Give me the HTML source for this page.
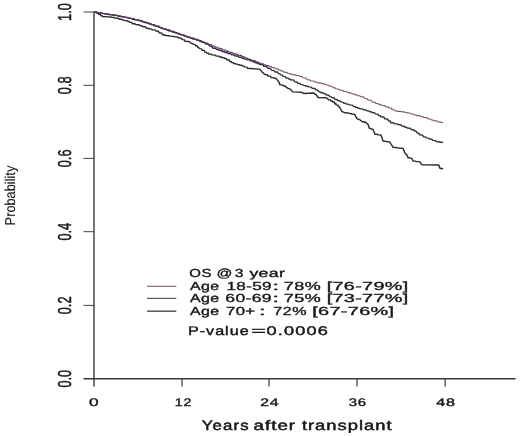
<!DOCTYPE html>
<html>
<head>
<meta charset="utf-8">
<title>Survival chart</title>
<style>
  html, body { margin: 0; padding: 0; background: #ffffff; }
  body { width: 520px; height: 436px; overflow: hidden; font-family: "Liberation Sans", sans-serif; }
  svg { display: block; filter: blur(0.4px); }
  text { font-family: "Liberation Sans", sans-serif; fill: #161616; stroke: #161616; stroke-width: 0.35px; text-rendering: geometricPrecision; }
  text.b { stroke: #111; stroke-width: 0.4px; }
  text.t { stroke: #111; stroke-width: 0.45px; }
</style>
</head>
<body>
<svg width="520" height="436" viewBox="0 0 520 436">
  <rect x="0" y="0" width="520" height="436" fill="#ffffff"/>

  <!-- axes -->
  <g stroke="#383838" stroke-width="1.4" fill="none">
    <line x1="94" y1="11.4" x2="94" y2="386.4"/>
    <line x1="83.4" y1="378.7" x2="515.6" y2="378.7"/>
  </g>
  <g stroke="#444444" stroke-width="1.3" fill="none">
    <line x1="83.4" y1="12" x2="94" y2="12" stroke-width="1"/>
    <line x1="83.4" y1="85.3" x2="94" y2="85.3" stroke-width="1"/>
    <line x1="83.4" y1="158.4" x2="94" y2="158.4" stroke-width="1"/>
    <line x1="83.4" y1="231.7" x2="94" y2="231.7" stroke-width="1"/>
    <line x1="83.4" y1="305.4" x2="94" y2="305.4" stroke-width="1"/>
    <line x1="182" y1="378.7" x2="182" y2="386.4"/>
    <line x1="269" y1="378.7" x2="269" y2="386.4"/>
    <line x1="357" y1="378.7" x2="357" y2="386.4"/>
    <line x1="445.2" y1="378.7" x2="445.2" y2="386.4"/>
  </g>

  <!-- y tick labels (rotated) -->
  <g font-size="12.8px" text-anchor="middle">
    <text transform="translate(70.8,12) rotate(-90) scale(1,1.46)">1.0</text>
    <text transform="translate(70.8,85.3) rotate(-90) scale(1,1.46)">0.8</text>
    <text transform="translate(70.8,158.4) rotate(-90) scale(1,1.46)">0.6</text>
    <text transform="translate(70.8,231.7) rotate(-90) scale(1,1.46)">0.4</text>
    <text transform="translate(70.8,305.4) rotate(-90) scale(1,1.46)">0.2</text>
    <text transform="translate(70.8,378.7) rotate(-90) scale(1,1.46)">0.0</text>
  </g>

  <!-- y axis title -->
  <text transform="translate(14.7,224.3) rotate(-90) scale(1,1.12)" x="-1.1" y="0" font-size="12.8px" textLength="59.7" lengthAdjust="spacingAndGlyphs" style="stroke-width:0.1px">Probability</text>

  <!-- curves -->
  <defs>
    <linearGradient id="gu" gradientUnits="userSpaceOnUse" x1="94" y1="0" x2="444" y2="0">
      <stop offset="0" stop-color="#56365e"/><stop offset="0.44" stop-color="#56365e"/>
      <stop offset="0.54" stop-color="#786264"/><stop offset="1" stop-color="#786264"/>
    </linearGradient>
    <linearGradient id="gm" gradientUnits="userSpaceOnUse" x1="94" y1="0" x2="444" y2="0">
      <stop offset="0" stop-color="#2e2236"/><stop offset="0.44" stop-color="#2e2236"/>
      <stop offset="0.54" stop-color="#343538"/><stop offset="1" stop-color="#343538"/>
    </linearGradient>
  </defs>
  <g fill="none" stroke-linejoin="miter" stroke-linecap="butt">
    <polyline stroke="#2c2b2e" stroke-width="1.45" points="94.5,12.0 96.1,12.1 96.7,13.2 98.2,13.4 98.8,14.4 100.3,14.5 100.8,15.6 102.1,15.7 102.5,16.5 108.8,16.9 110.8,17.0 111.5,17.4 114.1,17.5 115.0,18.1 118.3,18.2 119.4,19.2 121.8,19.3 122.6,20.0 124.0,20.1 124.5,20.5 126.8,20.6 127.5,21.2 129.0,21.4 129.5,22.2 131.7,22.4 132.5,23.8 134.9,23.8 135.6,24.5 138.9,24.7 140.0,25.6 141.8,25.7 142.3,26.5 145.3,26.7 146.2,28.1 147.6,28.2 148.1,28.5 149.5,28.6 150.0,29.0 151.7,29.1 152.2,29.7 155.1,29.9 156.0,31.0 158.4,31.2 159.2,32.8 161.7,33.1 162.5,34.8 164.0,34.8 164.5,35.2 165.8,35.3 166.2,35.6 168.5,35.7 169.2,36.0 171.3,36.1 171.9,36.4 174.2,36.5 175.0,36.9 177.5,37.0 178.3,37.9 180.5,38.0 181.2,38.8 182.3,38.9 182.6,39.7 184.4,39.9 185.0,41.2 188.8,41.5 191.2,43.1 193.8,44.4 195.2,44.6 195.7,45.7 197.0,45.8 197.5,46.9 200.0,48.6 201.6,48.8 202.2,50.2 204.3,50.4 205.0,52.2 206.3,52.4 206.8,53.1 208.3,53.2 208.8,54.1 211.2,54.2 212.0,54.9 215.2,55.1 216.2,56.0 218.8,56.1 219.6,57.0 221.4,57.0 222.0,57.6 224.2,57.7 225.0,58.5 226.5,58.7 227.0,59.8 229.3,60.0 230.0,61.6 231.4,61.7 231.9,62.6 233.3,62.7 233.8,63.5 235.4,63.6 235.9,64.1 237.1,64.1 237.5,64.5 239.2,64.6 239.7,65.2 241.8,65.3 242.5,66.0 244.1,66.1 244.6,66.9 246.8,67.1 247.5,68.2 253.8,68.8 258.8,69.1 260.0,69.4 262.5,72.4 265.0,74.6 267.2,74.8 267.9,76.0 270.4,76.1 271.2,77.5 273.6,77.6 274.4,78.3 275.8,78.3 276.2,78.8 278.8,81.9 280.0,84.8 282.4,84.9 283.2,85.7 284.5,85.8 285.0,86.2 287.5,88.1 290.6,89.4 292.5,91.9 301.2,92.2 303.8,93.5 313.8,93.1 316.2,94.8 318.1,97.5 326.2,97.8 328.8,99.9 330.3,100.0 330.8,100.9 332.1,101.0 332.5,101.8 334.2,102.0 334.8,103.7 335.9,103.8 336.2,104.9 337.9,105.1 338.5,106.8 339.6,106.9 340.0,108.0 341.9,111.5 345.0,112.8 346.7,112.8 347.3,113.1 349.3,113.2 350.0,113.6 351.4,113.7 351.9,114.1 354.2,114.2 355.0,114.9 356.9,118.6 360.0,119.9 362.5,121.8 364.0,121.8 364.5,122.3 365.8,122.3 366.2,122.8 368.1,124.5 369.4,128.3 370.8,128.4 371.3,129.1 372.7,129.2 373.1,129.9 375.0,134.2 377.2,134.3 377.9,134.8 380.4,134.9 381.2,135.5 383.1,141.1 385.3,141.2 386.0,141.6 389.0,141.7 390.0,142.4 393.1,147.4 395.9,147.5 396.8,147.8 398.5,147.9 399.0,148.1 402.1,148.2 403.1,148.6 405.0,153.0 406.9,154.9 408.1,157.8 409.3,157.8 409.8,158.1 411.4,158.2 411.9,158.6 413.1,161.1 415.4,161.1 416.1,161.5 419.0,161.6 420.0,162.0 421.9,164.9 438.7,165.0 440.0,168.3 443.1,168.8"/>
    <polyline stroke="url(#gm)" stroke-width="1.45" points="94.5,12.0 96.5,12.1 97.3,12.6 98.6,12.6 99.2,12.9 101.4,13.0 102.3,13.6 104.3,13.6 105.2,14.0 107.1,14.0 108.0,14.4 109.8,14.4 110.6,14.8 112.2,14.8 112.9,15.1 115.2,15.2 116.2,15.6 117.9,15.7 118.7,16.1 120.4,16.2 121.1,16.6 123.4,16.7 124.4,17.3 126.6,17.4 127.5,17.9 129.0,18.0 129.6,18.4 131.7,18.5 132.6,19.2 134.2,19.3 134.9,19.7 137.4,19.9 138.6,20.6 141.2,20.8 142.4,21.7 144.5,21.9 145.4,22.7 148.1,22.8 149.2,23.9 150.6,24.0 151.2,24.5 153.3,24.7 154.2,25.6 155.6,25.7 156.2,26.3 158.2,26.5 159.0,27.3 160.4,27.5 161.0,28.1 162.5,28.2 163.1,28.8 165.4,29.0 166.4,29.9 168.0,30.0 168.7,30.7 170.2,30.8 170.8,31.4 172.4,31.5 173.1,32.2 175.0,32.3 175.7,33.1 177.8,33.2 178.7,34.1 180.3,34.2 181.0,34.9 183.3,35.1 184.3,36.1 186.4,36.2 187.2,37.1 189.4,37.3 190.3,38.1 192.2,38.2 193.0,39.0 195.6,39.1 196.7,40.1 198.9,40.3 199.9,41.2 201.4,41.3 202.1,42.2 204.5,42.4 205.6,43.8 208.4,44.2 209.7,46.2 211.8,46.5 212.7,48.0 215.4,48.2 216.6,49.4 218.4,49.5 219.2,50.3 221.4,50.5 222.4,51.5 224.4,51.6 225.2,52.5 227.2,52.6 228.1,53.5 230.6,53.6 231.7,54.7 233.9,54.9 234.8,55.8 237.7,56.0 238.9,57.1 241.1,57.3 242.0,58.1 243.4,58.2 244.0,58.8 245.9,58.9 246.7,59.6 249.4,59.8 250.5,60.9 252.5,61.0 253.3,61.9 254.6,62.0 255.2,62.6 256.8,62.7 257.6,63.5 258.9,63.6 259.5,64.2 262.5,64.5 263.7,66.2 266.6,66.5 267.8,68.3 270.4,68.6 271.6,70.1 273.8,70.4 274.8,71.8 277.3,72.0 278.4,73.6 280.0,73.8 280.6,74.9 282.4,75.1 283.1,76.4 285.3,76.6 286.2,78.0 288.1,78.1 288.9,79.0 290.2,79.2 290.8,79.8 293.7,80.1 294.9,81.8 296.9,82.0 297.8,83.2 299.9,83.4 300.8,84.4 302.6,84.6 303.4,85.4 305.1,85.6 305.8,86.1 307.7,86.2 308.5,86.9 311.2,87.1 312.3,88.3 314.8,88.5 315.9,89.8 317.8,90.1 318.6,91.4 319.9,91.6 320.4,92.5 323.0,92.7 324.1,93.9 325.9,94.0 326.6,95.0 328.8,95.3 329.8,96.6 331.1,96.8 331.7,97.6 334.0,97.8 335.0,99.3 337.0,99.5 337.8,100.6 339.9,100.8 340.8,101.9 342.7,102.1 343.6,103.0 345.4,103.2 346.2,104.0 348.4,104.1 349.3,104.9 352.2,105.1 353.5,106.4 354.9,106.5 355.5,107.2 357.3,107.4 358.1,108.2 359.4,108.3 360.0,108.8 362.5,108.9 363.6,109.8 365.9,110.0 366.9,110.8 368.6,110.9 369.2,111.5 371.2,111.7 372.0,112.6 374.4,112.8 375.4,113.9 377.8,114.2 378.8,115.6 380.3,115.8 381.0,116.7 383.7,117.0 384.9,118.7 387.5,119.0 388.6,120.8 390.1,121.0 390.7,122.7 393.4,122.8 394.6,123.8 397.1,123.9 398.2,124.6 400.8,124.8 401.9,126.1 404.1,126.3 405.0,127.2 406.6,127.3 407.3,128.0 410.1,128.3 411.3,129.6 413.6,129.8 414.6,131.0 416.4,131.3 417.2,133.0 418.9,133.3 419.6,134.8 422.4,135.1 423.6,136.7 425.6,136.9 426.4,137.9 428.6,138.1 429.5,139.1 431.8,139.3 432.8,140.4 435.4,140.6 436.6,141.6 438.9,141.7 439.9,142.2 441.4,142.2 442.1,142.3 442.7,142.4 443.0,142.4"/>
    <polyline stroke="url(#gu)" stroke-width="1.2" points="94.5,12.0 96.6,12.1 97.5,12.5 100.1,12.6 101.3,13.2 102.6,13.2 103.2,13.5 105.1,13.6 105.9,13.9 107.5,13.9 108.2,14.2 109.7,14.3 110.3,14.5 112.0,14.6 112.7,14.9 114.7,14.9 115.5,15.3 117.6,15.4 118.5,15.9 120.8,16.0 121.8,16.6 123.8,16.6 124.7,17.1 127.3,17.3 128.4,17.9 130.1,18.0 130.9,18.5 133.8,18.7 135.0,19.5 136.4,19.6 137.0,20.0 139.6,20.1 140.7,20.9 142.8,21.0 143.6,21.8 146.0,22.0 147.0,22.9 148.6,23.0 149.3,23.6 151.0,23.7 151.7,24.4 154.5,24.6 155.7,25.8 158.8,26.1 160.1,27.4 162.0,27.6 162.8,28.4 165.4,28.6 166.5,29.6 169.4,29.8 170.7,31.0 173.6,31.3 174.9,32.5 176.4,32.6 177.0,33.2 178.4,33.3 179.0,33.9 180.7,34.0 181.4,34.7 184.3,35.0 185.5,36.2 187.1,36.3 187.7,37.0 189.8,37.1 190.7,37.9 193.8,38.1 195.1,39.3 197.4,39.4 198.4,40.3 201.0,40.5 202.1,41.7 204.0,41.8 204.8,42.8 207.4,43.0 208.5,44.3 211.3,44.6 212.5,46.0 213.9,46.1 214.5,46.8 217.2,47.0 218.3,48.2 221.4,48.5 222.8,49.9 225.5,50.1 226.6,51.3 228.5,51.4 229.3,52.1 232.0,52.3 233.2,53.4 234.7,53.5 235.4,54.1 237.5,54.2 238.4,55.1 241.4,55.4 242.7,56.8 244.6,56.9 245.4,57.8 247.2,58.0 248.0,58.8 249.6,59.0 250.3,59.7 251.7,59.8 252.2,60.4 254.8,60.6 255.9,61.7 257.6,61.8 258.4,62.5 260.2,62.7 261.0,63.5 263.2,63.7 264.1,64.8 265.6,64.9 266.2,65.6 268.6,65.7 269.6,66.6 271.2,66.7 271.9,67.3 274.3,67.5 275.3,68.6 277.9,68.8 279.0,70.1 280.5,70.2 281.2,71.0 283.3,71.2 284.2,72.2 286.8,72.4 287.9,73.4 290.0,73.5 290.9,74.3 292.3,74.3 292.9,74.7 295.2,74.8 296.2,75.4 298.7,75.5 299.8,76.5 302.1,76.7 303.1,77.8 306.1,78.1 307.4,79.6 309.8,79.8 310.8,80.8 313.8,81.0 315.1,82.1 316.6,82.2 317.3,82.7 318.9,82.8 319.6,83.2 322.4,83.3 323.6,84.2 325.6,84.3 326.5,85.0 328.2,85.2 328.9,85.9 331.9,86.2 333.2,87.7 335.1,87.8 336.0,88.8 338.7,89.0 339.8,90.2 342.5,90.4 343.6,91.3 346.5,91.5 347.8,92.6 350.2,92.7 351.3,93.6 354.0,93.8 355.1,94.8 357.1,94.9 357.9,95.7 359.8,95.8 360.6,96.6 363.5,96.9 364.8,98.3 366.9,98.5 367.8,99.9 370.9,100.2 372.2,102.0 374.7,102.2 375.8,103.4 378.3,103.6 379.3,104.6 380.9,104.7 381.5,105.3 384.6,105.5 385.9,106.8 388.0,106.9 388.9,107.9 391.3,108.1 392.3,109.5 394.4,109.8 395.3,111.0 397.1,111.1 397.8,111.3 400.8,111.4 402.1,111.8 404.4,111.9 405.5,112.5 406.8,112.5 407.4,112.9 409.8,113.0 410.9,113.9 412.8,114.0 413.6,114.7 415.9,114.8 416.9,115.6 419.8,115.7 421.1,116.7 423.1,116.8 423.9,117.5 426.9,117.7 428.2,118.8 430.6,119.0 431.7,120.0 433.1,120.1 433.7,120.7 436.7,120.9 438.0,122.0 440.5,122.1 441.6,122.4 442.6,122.5 443.0,122.6"/>
  </g>

  <!-- legend swatches -->
  <g fill="none">
    <line x1="147" y1="286.3" x2="176.3" y2="286.3" stroke="#7f6166" stroke-width="1.1"/>
    <line x1="147" y1="298.4" x2="176.3" y2="298.4" stroke="#5e6064" stroke-width="1.3"/>
    <line x1="147" y1="311.2" x2="176.3" y2="311.2" stroke="#585858" stroke-width="1.5"/>
  </g>

  <!-- text: legend, p-value, x tick labels, x title -->
  <g>
    <text transform="translate(189.30,277.1) scale(1.279,1)" font-size="11.7px" letter-spacing="0.490">OS</text>
    <text transform="translate(216.39,277.1) scale(1.340,1)" font-size="11.7px" letter-spacing="0.000">@</text>
    <text transform="translate(234.66,277.1) scale(1.339,1)" font-size="11.7px" letter-spacing="0.000">3</text>
    <text transform="translate(249.40,277.1) scale(1.514,1)" font-size="11.7px" letter-spacing="0.233">year</text>
    <text transform="translate(190.00,289.6) scale(1.361,1)" font-size="11.7px" letter-spacing="0.314">Age</text>
    <text transform="translate(226.45,289.6) scale(1.467,1)" font-size="11.7px" letter-spacing="0.221">18-59</text>
    <text transform="translate(272.60,289.6) scale(2.000,1)" font-size="11.7px" letter-spacing="0.000">:</text>
    <text transform="translate(283.78,289.6) scale(1.536,1)" font-size="11.7px" letter-spacing="0.347">78%</text>
    <text transform="translate(326.64,289.6) scale(1.694,1)" font-size="11.7px" letter-spacing="0.200">[76-79%]</text>
    <text transform="translate(190.00,302.1) scale(1.361,1)" font-size="11.7px" letter-spacing="0.314">Age</text>
    <text transform="translate(225.37,302.1) scale(1.502,1)" font-size="11.7px" letter-spacing="0.223">60-69</text>
    <text transform="translate(272.60,302.1) scale(2.000,1)" font-size="11.7px" letter-spacing="0.000">:</text>
    <text transform="translate(283.78,302.1) scale(1.536,1)" font-size="11.7px" letter-spacing="0.347">75%</text>
    <text transform="translate(326.64,302.1) scale(1.694,1)" font-size="11.7px" letter-spacing="0.200">[73-77%]</text>
    <text transform="translate(190.00,314.6) scale(1.361,1)" font-size="11.7px" letter-spacing="0.314">Age</text>
    <text transform="translate(225.94,314.6) scale(1.431,1)" font-size="11.7px" letter-spacing="0.289">70+</text>
    <text transform="translate(258.90,314.6) scale(2.000,1)" font-size="11.7px" letter-spacing="0.000">:</text>
    <text transform="translate(273.37,314.6) scale(1.376,1)" font-size="11.7px" letter-spacing="0.347">72%</text>
    <text transform="translate(312.14,314.6) scale(1.701,1)" font-size="11.7px" letter-spacing="0.200">[67-76%]</text>
    <text transform="translate(188.01,334.6) scale(1.292,1)" font-size="12.5px" letter-spacing="0.756" class="b">P-value</text>
    <text transform="translate(251.20,334.6) scale(2.000,1)" font-size="12.5px" letter-spacing="0.000" class="b">=</text>
    <text transform="translate(266.55,334.6) scale(1.448,1)" font-size="12.5px" letter-spacing="0.828" class="b">0.0006</text>
    <text transform="translate(89.07,405.9) scale(1.566,1)" font-size="11px" letter-spacing="0.000">0</text>
    <text transform="translate(174.76,405.9) scale(1.305,1)" font-size="11px" letter-spacing="0.575">12</text>
    <text transform="translate(260.21,405.9) scale(1.437,1)" font-size="11px" letter-spacing="0.598">24</text>
    <text transform="translate(348.66,405.9) scale(1.354,1)" font-size="11px" letter-spacing="0.598">36</text>
    <text transform="translate(436.14,405.9) scale(1.460,1)" font-size="11px" letter-spacing="0.606">48</text>
    <text transform="translate(201.74,430.3) scale(1.215,1)" font-size="13.8px" letter-spacing="0.948" class="t">Years</text>
    <text transform="translate(253.62,430.3) scale(1.354,1)" font-size="13.8px" letter-spacing="0.753" class="t">after</text>
    <text transform="translate(301.90,430.3) scale(1.331,1)" font-size="13.8px" letter-spacing="0.749" class="t">transplant</text>

  </g>
</svg>
</body>
</html>
